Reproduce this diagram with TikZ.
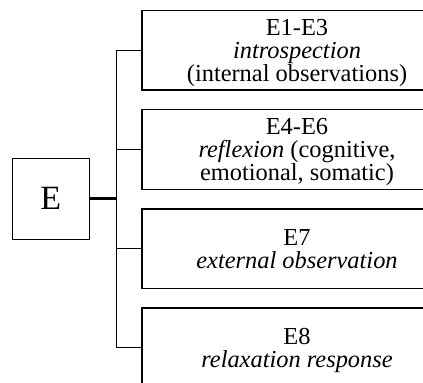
\documentclass[tikz,border=0pt]{standalone}
\usepackage{fontspec}
\setmainfont{Liberation Serif}
\usetikzlibrary{
  positioning
  , calc
}
\tikzset{
  catbox/.style={draw, rectangle, line width=0.65pt,
    minimum width=155pt, minimum height=39.75pt,
    inner sep=0pt, align=center, text depth=0pt,
    font=\fontsize{12.2}{11.4}\selectfont},
  rootbox/.style={draw, rectangle, line width=0.65pt,
    minimum width=38.5pt, minimum height=40.5pt,
    inner sep=0pt, font=\fontsize{17}{17}\selectfont},
  branch/.style={line width=0.5pt},
}
\begin{document}
\begin{tikzpicture}[x=0.5pt, y=-0.5pt]
      \useasboundingbox (0,0) rectangle (423,383);
      \clip (0,0) rectangle (423,383);

      \node [rootbox] (root) at (50.8, 198.8){E};

      \node [catbox] (intro) at (297, 50.3){E1-E3\\\textit{introspection}\\(internal observations)};
      \node [catbox] (reflex) at (297, 149.5){E4-E6\\\textit{reflexion} (cognitive,\\emotional, somatic)};
      \node [catbox] (extern) at (297, 248.7){E7\\\textit{external observation}};
      \node [catbox] (relax) at (297, 347.9){E8\\\textit{relaxation response}};

      \coordinate (bus) at (116.3, 198.8);
      \draw[line width=1.3pt] (root.east) -- (bus);
      \draw[branch] (bus |- intro.west) -- (bus |- relax.west);
      \draw[branch] (bus |- intro.west) -- (intro.west);
      \draw[branch] (bus |- reflex.west) -- (reflex.west);
      \draw[branch] (bus |- extern.west) -- (extern.west);
      \draw[branch] (bus |- relax.west) -- (relax.west);
    \end{tikzpicture}
\end{document}
